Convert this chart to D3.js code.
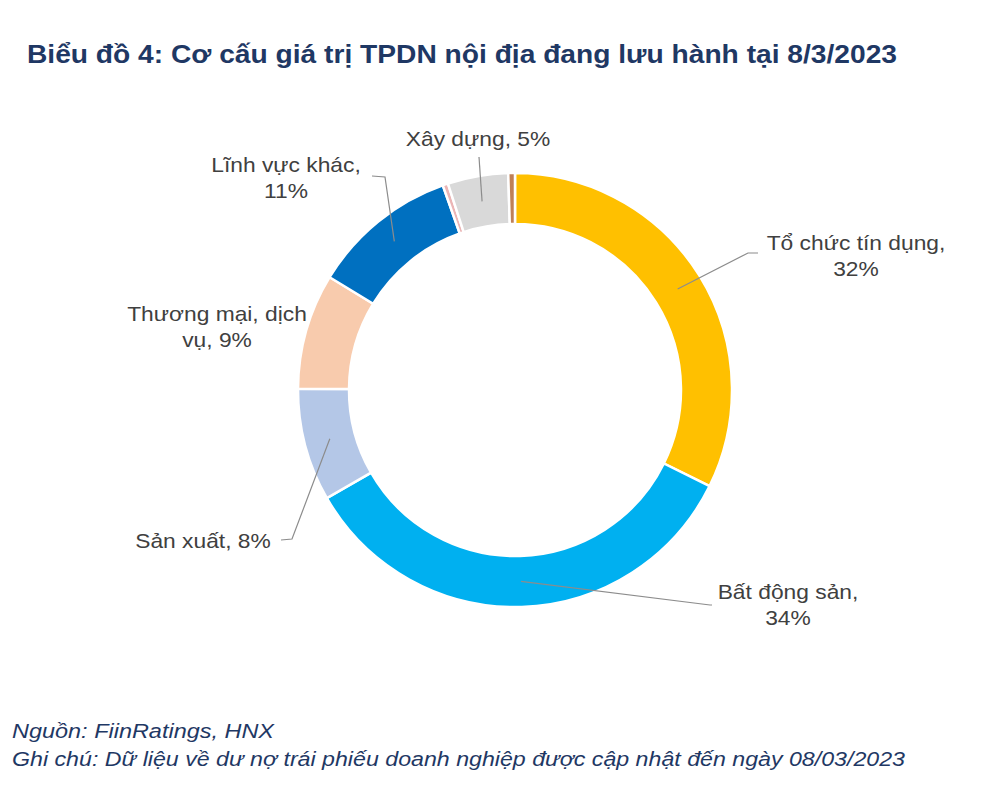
<!DOCTYPE html>
<html>
<head>
<meta charset="utf-8">
<script src="https://cdn.jsdelivr.net/npm/d3@7"></script>
<style>
  body { margin: 0; background: #fff; }
  text { font-family: "Liberation Sans", Arial, sans-serif; }
</style>
</head>
<body>
<div id="chart-area"></div>
<script>
// data (clockwise from 12 o'clock)
var categories = ["Tổ chức tín dụng", "Bất động sản", "Sản xuất", "Thương mại, dịch vụ",
                  "Lĩnh vực khác", "Khác (nhỏ)", "Xây dựng", "Khác"];
var values = [32.3, 34.4, 8.4, 8.6, 10.9, 0.4, 4.5, 0.5];
var colors = ["#FFC000", "#00B0F0", "#B4C7E7", "#F8CBAD", "#0070C0", "#EBB5B5", "#D9D9D9", "#BF8058"];
// label text lines, [] = no label
var labelLines = [
  ["Tổ chức tín dụng,", "32%"],
  ["Bất động sản,", "34%"],
  ["Sản xuất, 8%"],
  ["Thương mại, dịch", "vụ, 9%"],
  ["Lĩnh vực khác,", "11%"],
  [],
  ["Xây dựng, 5%"],
  []
];

var width = 1000, height = 790;
var cx = 515, cy = 390;
var outerR = 217, innerR = 166;
var stretch = 1.14;   // text in the picture is a little wider than the font

// label layout: text centre, first baseline, leader elbow + end (null = no leader)
var labelLayout = [
  {x: 856, y: 250, elbow: [748, 253], end: [758, 253]},
  {x: 788, y: 599, elbow: [710, 605], end: [712, 605]},
  {x: 203, y: 548, elbow: [292, 539], end: [281, 540]},
  {x: 217, y: 321, elbow: null},
  {x: 286, y: 172, elbow: [385, 177], end: [372, 176]},
  null,
  {x: 478, y: 146, elbow: [479, 157], end: [479, 157]},
  null
];

var svg = d3.select("#chart-area").append("svg")
    .attr("width", width)
    .attr("height", height);

svg.append("text")
    .attr("x", 27)
    .attr("y", 63)
    .attr("font-size", "25px")
    .attr("font-weight", "bold")
    .attr("fill", "#1F3864")
    .attr("textLength", 870)
    .attr("lengthAdjust", "spacingAndGlyphs")
    .text("Biểu đồ 4: Cơ cấu giá trị TPDN nội địa đang lưu hành tại 8/3/2023");

var data = categories.map(function(c, i){
    return {name: c, value: values[i], color: colors[i], lines: labelLines[i], lay: labelLayout[i]};
});

var pie = d3.pie()
    .sort(null)
    .value(function(d){ return d.value; });

var arc = d3.arc()
    .innerRadius(innerR)
    .outerRadius(outerR);

var g = svg.append("g")
    .attr("transform", "translate(" + cx + "," + cy + ")");

var arcs = pie(data);

g.selectAll("path.slice")
    .data(arcs)
    .enter().append("path")
    .attr("class", "slice")
    .attr("d", arc)
    .attr("fill", function(d){ return d.data.color; })
    .attr("stroke", "#fff")
    .attr("stroke-width", 2.5);

// leader lines
arcs.forEach(function(d){
    var lay = d.data.lay;
    if (!lay || !lay.elbow) return;
    var c = arc.centroid(d);
    var pts = [[c[0], c[1]],
               [lay.elbow[0] - cx, lay.elbow[1] - cy],
               [lay.end[0] - cx, lay.end[1] - cy]];
    g.append("path")
        .attr("d", d3.line()(pts))
        .attr("fill", "none")
        .attr("stroke", "#8C8C8C")
        .attr("stroke-width", 1.2);
});

// labels
arcs.forEach(function(d){
    var lay = d.data.lay;
    if (!lay) return;
    var t = svg.append("g")
        .attr("transform", "translate(" + lay.x + "," + lay.y + ") scale(" + stretch + ",1)")
        .append("text")
        .attr("text-anchor", "middle")
        .attr("font-size", "20px")
        .attr("fill", "#404040");
    d.data.lines.forEach(function(line, i){
        t.append("tspan")
            .attr("x", 0)
            .attr("dy", i === 0 ? 0 : 26)
            .text(line);
    });
});

// footnotes
svg.append("text")
    .attr("x", 12)
    .attr("y", 738)
    .attr("font-size", "20px")
    .attr("font-style", "italic")
    .attr("fill", "#1F3864")
    .attr("textLength", 262)
    .attr("lengthAdjust", "spacingAndGlyphs")
    .text("Nguồn: FiinRatings, HNX");

svg.append("text")
    .attr("x", 12)
    .attr("y", 766)
    .attr("font-size", "20px")
    .attr("font-style", "italic")
    .attr("fill", "#1F3864")
    .attr("textLength", 893)
    .attr("lengthAdjust", "spacingAndGlyphs")
    .text("Ghi chú: Dữ liệu về dư nợ trái phiếu doanh nghiệp được cập nhật đến ngày 08/03/2023");
</script>
</body>
</html>
